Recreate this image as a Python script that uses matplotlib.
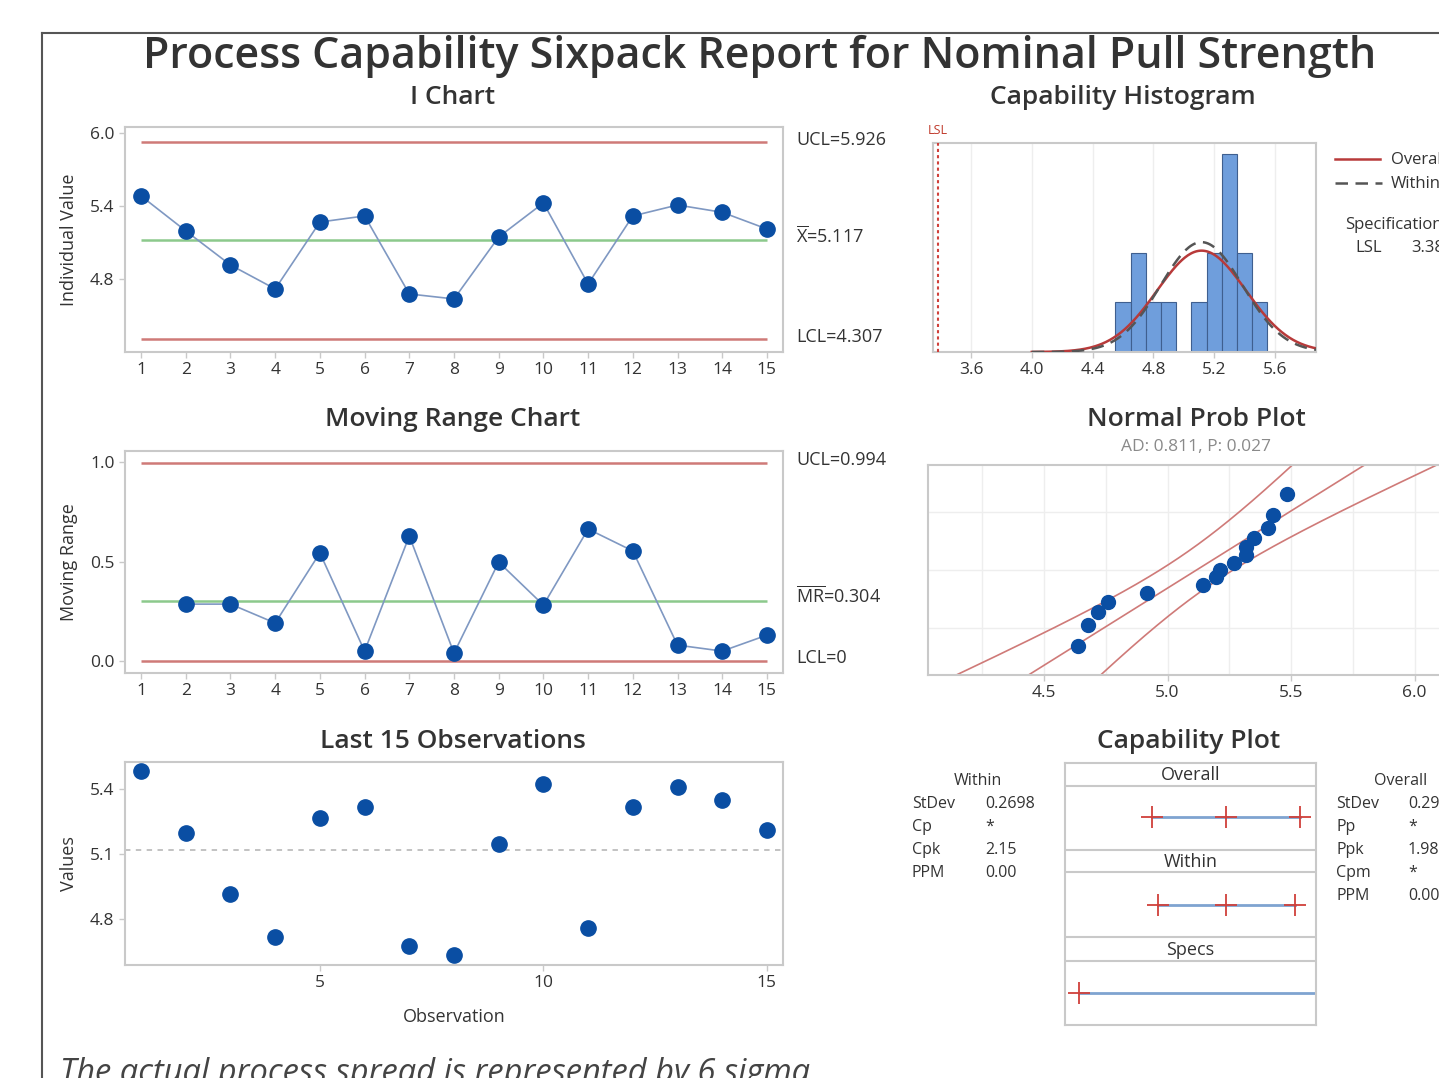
import numpy as np
import matplotlib
matplotlib.use("Agg")
import matplotlib.pyplot as plt
from matplotlib.lines import Line2D
from statistics import NormalDist

FONT = "Open Sans"
plt.rcParams['font.family'] = [FONT, 'DejaVu Sans']
plt.rcParams['mathtext.fontset'] = 'custom'
plt.rcParams['mathtext.rm'] = FONT

# ---------------- data ----------------
obs_index = list(range(1, 16))
obs_values = [5.482, 5.195, 4.915, 4.718, 5.268, 5.318, 4.677, 4.636,
              5.145, 5.425, 4.759, 5.318, 5.408, 5.348, 5.211]
mr_index = list(range(2, 16))
mr_values = [0.286, 0.286, 0.191, 0.543, 0.050, 0.628, 0.040, 0.497,
             0.281, 0.663, 0.553, 0.080, 0.050, 0.130]
i_ucl, i_center, i_lcl = 5.926, 5.117, 4.307
mr_ucl, mr_center, mr_lcl = 0.994, 0.304, 0.0
lsl = 3.38
sd_within = 0.2698
sd_overall = 0.2924
hist_edges = [4.55, 4.65, 4.75, 4.85, 4.95, 5.05, 5.15, 5.25, 5.35, 5.45, 5.55]
ad_text = "AD: 0.811, P: 0.027"
within_labels = ["StDev", "Cp", "Cpk", "PPM"]
within_vals = ["0.2698", "*", "2.15", "0.00"]
overall_labels = ["StDev", "Pp", "Ppk", "Cpm", "PPM"]
overall_vals = ["0.2924", "*", "1.98", "*", "0.00"]

# ---------------- style ----------------
W, H = 1439, 1078
RED = "#cf7a78"
GREEN = "#8cc98c"
LINEBLUE = "#7f98c2"
DOT = "#0a4ea3"
SPINE = "#c9c9c9"
TXT = "#333333"
GRID = "#eeeeee"

fig = plt.figure(figsize=(W / 100, H / 100), dpi=100)
fig.patch.set_facecolor("white")


def ax_px(x0, y0, x1, y1):
    return fig.add_axes([x0 / W, 1 - y1 / H, (x1 - x0) / W, (y1 - y0) / H])


def style(ax):
    for s in ax.spines.values():
        s.set_color(SPINE)
        s.set_linewidth(1.5)
    ax.tick_params(colors=TXT, labelsize=12.5, length=4, width=1, color=SPINE)


def ftext(x, y, s, **kw):
    kw.setdefault("color", TXT)
    fig.text(x / W, 1 - y / H, s, **kw)


# frame
fig.add_artist(Line2D([42 / W, 42 / W], [1 - 33 / H, -0.01], color="#555555", lw=1.5))
fig.add_artist(Line2D([42 / W, 1.01], [1 - 33 / H, 1 - 33 / H], color="#555555", lw=1.5))

ftext(760, 56, "Process Capability Sixpack Report for Nominal Pull Strength",
      ha="center", va="center", fontsize=31, fontweight="semibold")

TSZ = 19
# ---------------- I chart ----------------
ax1 = ax_px(125, 127, 783, 352)
style(ax1)
ax1.hlines([i_ucl, i_lcl], obs_index[0], obs_index[-1], color=RED, lw=1.8)
ax1.hlines([i_center], obs_index[0], obs_index[-1], color=GREEN, lw=1.8)
ax1.plot(obs_index, obs_values, color=LINEBLUE, lw=1.2, marker="o", ms=11,
         mfc=DOT, mec=DOT, zorder=3)
ax1.set_xlim(0.64, 15.36)
ax1.set_ylim(4.20, 6.049)
ax1.set_xticks(obs_index)
ax1.set_yticks([4.8, 5.4, 6.0])
ax1.set_yticklabels(["4.8", "5.4", "6.0"])
ax1.set_ylabel("Individual Value", fontsize=13, color=TXT, labelpad=9)
ftext(453, 98, "I Chart", ha="center", va="center", fontsize=TSZ, fontweight="semibold")
ftext(796, 140, f"UCL={i_ucl}", va="center", fontsize=13)
ftext(796, 236, r"$\overline{\mathrm{X}}$" + f"={i_center}", va="center", fontsize=13)
ftext(796, 337, f"LCL={i_lcl}", va="center", fontsize=13)

# ---------------- MR chart ----------------
ax2 = ax_px(125, 451, 783, 673)
style(ax2)
ax2.hlines([mr_ucl, mr_lcl], obs_index[0], obs_index[-1], color=RED, lw=1.8)
ax2.hlines([mr_center], obs_index[0], obs_index[-1], color=GREEN, lw=1.8)
ax2.plot(mr_index, mr_values, color=LINEBLUE, lw=1.2, marker="o", ms=11,
         mfc=DOT, mec=DOT, zorder=3)
ax2.set_xlim(0.64, 15.36)
ax2.set_ylim(-0.06, 1.055)
ax2.set_xticks(obs_index)
ax2.set_yticks([0.0, 0.5, 1.0])
ax2.set_yticklabels(["0.0", "0.5", "1.0"])
ax2.set_ylabel("Moving Range", fontsize=13, color=TXT, labelpad=9)
ftext(453, 419, "Moving Range Chart", ha="center", va="center", fontsize=TSZ, fontweight="semibold")
ftext(796, 460, f"UCL={mr_ucl}", va="center", fontsize=13)
ftext(796, 596, r"$\overline{\mathrm{MR}}$" + f"={mr_center}", va="center", fontsize=13)
ftext(796, 658, "LCL=0", va="center", fontsize=13)

# ---------------- Last 15 observations ----------------
ax3 = ax_px(125, 762, 783, 965)
style(ax3)
ax3.axhline(i_center, color="#bdbdbd", lw=1.3, ls=(0, (3, 3)))
ax3.plot(obs_index, obs_values, ls="none", marker="o", ms=11, mfc=DOT, mec=DOT)
ax3.set_xlim(0.64, 15.36)
ax3.set_ylim(4.588, 5.525)
ax3.set_xticks([5, 10, 15])
ax3.set_yticks([4.8, 5.1, 5.4])
ax3.set_yticklabels(["4.8", "5.1", "5.4"])
ax3.set_ylabel("Values", fontsize=13, color=TXT, labelpad=9)
ax3.set_xlabel("Observation", fontsize=13, color=TXT, labelpad=12)
ftext(453, 741, "Last 15 Observations", ha="center", va="center", fontsize=TSZ, fontweight="semibold")

# ---------------- Capability histogram ----------------
ax4 = ax_px(933, 143, 1316, 352)
style(ax4)
hx0, hx1 = 3.35, 5.87
ax4.set_xlim(hx0, hx1)
ax4.set_ylim(0, 4.22)
hticks = [3.6, 4.0, 4.4, 4.8, 5.2, 5.6]
ax4.set_xticks(hticks)
ax4.set_xticklabels([f"{t:.1f}" for t in hticks])
ax4.set_yticks([])
for t in hticks:
    ax4.axvline(t, color=GRID, lw=1, zorder=0)
ax4.hist(obs_values, bins=hist_edges, color="#6f9edc", edgecolor="#3f5f8f",
         lw=0.8, zorder=2)
n = len(obs_values)
bw = hist_edges[1] - hist_edges[0]
xc = np.linspace(4.0, hx1, 300)
for sd, col, ls in [(sd_overall, "#b83a3a", "-"), (sd_within, "#555555", (0, (5, 3)))]:
    yc = n * bw * np.exp(-0.5 * ((xc - i_center) / sd) ** 2) / (sd * np.sqrt(2 * np.pi))
    ax4.plot(xc, yc, color=col, lw=1.8, ls=ls, zorder=3)
ax4.axvline(lsl, color="#d0403a", lw=1.5, ls=(0, (1.5, 1.5)), zorder=3)
ftext(938, 130, "LSL", color="#c0392b", fontsize=9, ha="center", va="center")
ftext(1123, 98, "Capability Histogram", ha="center", va="center", fontsize=TSZ, fontweight="semibold")
fig.add_artist(Line2D([1335 / W, 1380 / W], [1 - 159 / H] * 2, color="#b83a3a", lw=1.8))
fig.add_artist(Line2D([1335 / W, 1382 / W], [1 - 183 / H] * 2, color="#555555", lw=1.8,
                      ls=(0, (5, 3))))
ftext(1391, 160, "Overall", va="center", fontsize=12)
ftext(1391, 184, "Within", va="center", fontsize=12)
ftext(1345, 225, "Specifications", va="center", fontsize=12)
ftext(1355, 248, "LSL", va="center", fontsize=12)
ftext(1411, 248, f"{lsl:.2f}", va="center", fontsize=12)

# ---------------- Normal probability plot ----------------
ax5 = ax_px(928, 465, 1448, 675)
style(ax5)
nd = NormalDist()
srt = np.sort(obs_values)
zs = np.array([nd.inv_cdf((i + 1 - 0.3) / (n + 0.4)) for i in range(n)])
zlim = nd.inv_cdf(0.99)
ax5.set_ylim(-zlim, zlim)
ax5.set_xlim(4.03, 6.135)
ax5.set_xticks([4.5, 5.0, 5.5, 6.0])
ax5.set_xticklabels(["4.5", "5.0", "5.5", "6.0"])
ax5.set_xticks(np.arange(4.25, 6.2, 0.25), minor=True)
ax5.tick_params(axis="x", which="minor", length=0)
ax5.set_yticks([nd.inv_cdf(p) for p in (0.10, 0.50, 0.90)])
ax5.set_yticklabels([])
ax5.tick_params(axis="y", length=0)
ax5.grid(True, which="both", color=GRID, lw=1)
ax5.set_axisbelow(True)
zz = np.linspace(-zlim, zlim, 200)
xl = i_center + zz * sd_overall
half = 1.96 * sd_overall * np.sqrt(1 / n + zz ** 2 / (2 * (n - 1)))
ax5.plot(xl, zz, color=RED, lw=1.2)
ax5.plot(xl - half, zz, color=RED, lw=1.2)
ax5.plot(xl + half, zz, color=RED, lw=1.2)
ax5.plot(srt, zs, ls="none", marker="o", ms=10, mfc=DOT, mec=DOT, zorder=3)
ftext(1196, 419, "Normal Prob Plot", ha="center", va="center", fontsize=TSZ, fontweight="semibold")
ftext(1196, 447, ad_text, ha="center", va="center", fontsize=12.5, color="#8a8a8a")

# ---------------- Capability plot ----------------
cx0, cx1 = 3.21, 6.18
ax6 = ax_px(1065, 763, 1316, 1025)
style(ax6)
ax6.set_xlim(cx0, cx1)
ax6.set_ylim(1025, 763)
ax6.set_xticks([])
ax6.set_yticks([])
for yb in (786, 850, 872, 937, 961):
    ax6.axhline(yb, color=SPINE, lw=1.5)
headers = [("Overall", 775), ("Within", 862), ("Specs", 950)]
for name, yy in headers:
    ax6.text(0.5 * (cx0 + cx1), yy, name, ha="center", va="center", fontsize=13, color=TXT)
rows = [
    (817, [i_center - 3 * sd_overall, i_center, i_center + 3 * sd_overall]),
    (905, [i_center - 3 * sd_within, i_center, i_center + 3 * sd_within]),
]
for yy, pts in rows:
    ax6.plot([pts[0], pts[-1]], [yy, yy], color="#7fa3d0", lw=2)
    ax6.plot(pts, [yy] * len(pts), ls="none", marker="+", ms=16, mew=1.3, color="#d0403a")
ax6.plot([lsl, cx1], [993, 993], color="#7fa3d0", lw=2)
ax6.plot([lsl], [993], ls="none", marker="+", ms=16, mew=1.3, color="#d0403a")
ftext(1189, 741, "Capability Plot", ha="center", va="center", fontsize=TSZ, fontweight="semibold")

ftext(978, 781, "Within", ha="center", va="center", fontsize=11.5)
for k, (lab, val) in enumerate(zip(within_labels, within_vals)):
    yy = 804 + k * 23
    ftext(912, yy, lab, va="center", fontsize=11.5)
    ftext(985, yy, val, va="center", fontsize=11.5)
ftext(1401, 781, "Overall", ha="center", va="center", fontsize=11.5)
for k, (lab, val) in enumerate(zip(overall_labels, overall_vals)):
    yy = 804 + k * 23
    ftext(1336, yy, lab, va="center", fontsize=11.5)
    ftext(1408, yy, val, va="center", fontsize=11.5)

# ---------------- footer ----------------
ftext(60, 1073, "The actual process spread is represented by 6 sigma.",
      va="center", fontsize=23.5, style="italic", color="#444444")

fig.savefig("out.png", dpi=100, facecolor="white")
